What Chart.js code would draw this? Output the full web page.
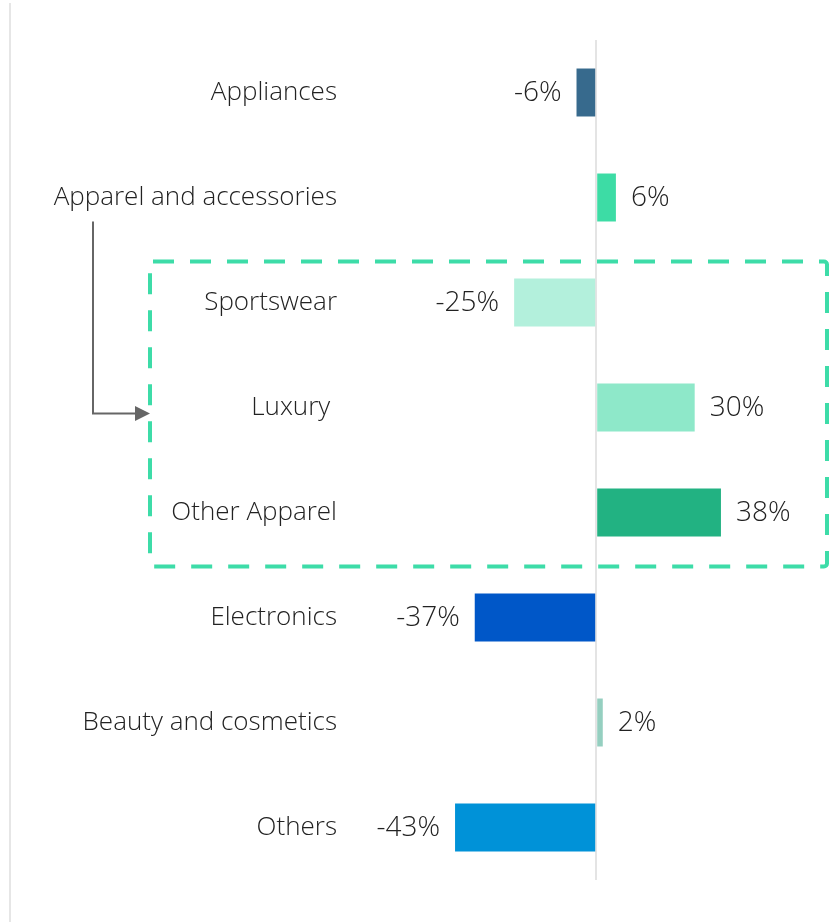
<!DOCTYPE html>
<html>
<head>
<meta charset="utf-8">
<script src="https://cdn.jsdelivr.net/npm/chart.js"></script>
<style>
  html, body { margin: 0; padding: 0; background: #fff; }
  #wrap { width: 833px; height: 922px; position: relative; }
</style>
</head>
<body>
<div id="wrap"><canvas id="chart"></canvas></div>
<script>
const categories = ['Appliances', 'Apparel and accessories', 'Sportswear', 'Luxury ', 'Other Apparel', 'Electronics', 'Beauty and cosmetics', 'Others'];
const changes = [-6, 6, -25, 30, 38, -37, 2, -43];
const barColors = ['#376a8d', '#3ddca5', '#b3f0dc', '#8ee8c9', '#22b282', '#0057c8', '#95cfc0', '#0092d8'];

const FONT = '"Open Sans", sans-serif';

// value labels next to each bar
const valueLabels = {
  id: 'valueLabels',
  afterDatasetsDraw(chart) {
    const ctx = chart.ctx;
    const meta = chart.getDatasetMeta(0);
    ctx.save();
    ctx.font = '300 28px ' + FONT;
    ctx.fillStyle = '#222';
    ctx.textBaseline = 'middle';
    meta.data.forEach((bar, i) => {
      const v = changes[i];
      const txt = v + '%';
      if (v < 0) {
        ctx.textAlign = 'right';
        ctx.fillText(txt, bar.x - 15, bar.y + 1);
      } else {
        ctx.textAlign = 'left';
        ctx.fillText(txt, bar.x + 15, bar.y + 1);
      }
    });
    ctx.restore();
  }
};

// frame line, dashed group box and arrow
const decorations = {
  id: 'decorations',
  afterDraw(chart) {
    const ctx = chart.ctx;
    const y = chart.scales.y;
    ctx.save();
    // left border
    ctx.strokeStyle = '#e6e6e6';
    ctx.lineWidth = 2;
    ctx.beginPath();
    ctx.moveTo(10, 3);
    ctx.lineTo(10, 922);
    ctx.stroke();

    // dashed box around apparel subcategories
    const top = y.getPixelForValue(2) - 41;
    const bottom = y.getPixelForValue(4) + 54;
    ctx.strokeStyle = '#3ddca8';
    ctx.lineWidth = 4;
    ctx.setLineDash([21, 16]);
    ctx.beginPath();
    ctx.roundRect(150, top, 827 - 150, bottom - top, 3);
    ctx.stroke();
    ctx.setLineDash([]);

    // elbow arrow from parent label into box
    const ay = y.getPixelForValue(3) + 6;
    ctx.strokeStyle = '#666';
    ctx.fillStyle = '#666';
    ctx.lineWidth = 2;
    ctx.beginPath();
    ctx.moveTo(93, y.getPixelForValue(1) + 24);
    ctx.lineTo(93, ay);
    ctx.lineTo(137, ay);
    ctx.stroke();
    ctx.beginPath();
    ctx.moveTo(150, ay);
    ctx.lineTo(135, ay - 7.5);
    ctx.lineTo(135, ay + 7.5);
    ctx.closePath();
    ctx.fill();
    ctx.restore();
  }
};

new Chart(document.getElementById('chart'), {
  type: 'bar',
  data: {
    labels: categories,
    datasets: [{
      data: changes,
      backgroundColor: barColors,
      barPercentage: 0.457,
      categoryPercentage: 1
    }]
  },
  options: {
    indexAxis: 'y',
    responsive: true,
    maintainAspectRatio: false,
    animation: false,
    layout: { padding: { top: 40, bottom: 42, left: 0, right: 7 } },
    plugins: {
      legend: { display: false },
      tooltip: { enabled: false }
    },
    scales: {
      x: {
        min: -75,
        max: 70,
        z: 1,
        ticks: { display: false, stepSize: 5 },
        border: { display: false },
        grid: {
          drawTicks: false,
          lineWidth: 2,
          color: c => c.tick && c.tick.value === 0 ? '#e4e4e4' : 'rgba(0,0,0,0)'
        },
        afterFit(scale) { scale.height = 0; }
      },
      y: {
        border: { display: false },
        grid: { display: false, drawTicks: false },
        ticks: {
          color: '#222',
          padding: 13,
          font: { family: FONT, size: 26, weight: 300 }
        },
        afterFit(scale) { scale.width = 350; }
      }
    }
  },
  plugins: [valueLabels, decorations]
});
</script>
</body>
</html>
